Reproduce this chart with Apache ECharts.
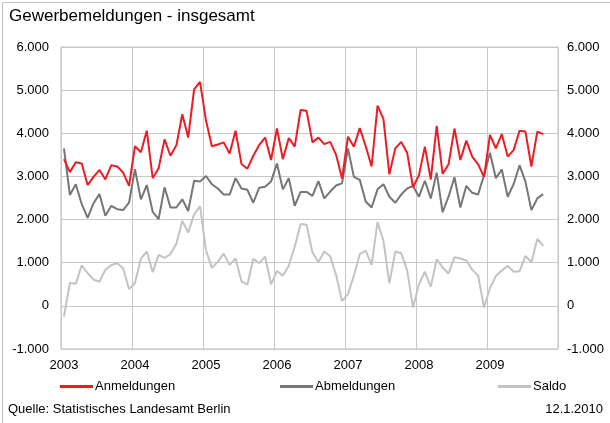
<!DOCTYPE html>
<html>
<head>
<meta charset="utf-8">
<script src="https://cdn.jsdelivr.net/npm/echarts@6/dist/echarts.min.js"></script>
<style>
  html, body { margin: 0; padding: 0; background: #fff; }
  #chart { width: 610px; height: 423px; }
</style>
</head>
<body>
<div id="chart"></div>
<script>
// Monatliche Gewerbemeldungen in Berlin, Januar 2003 bis Oktober 2009
const years = ['2003', '2004', '2005', '2006', '2007', '2008', '2009'];
const months = ['01', '02', '03', '04', '05', '06', '07', '08', '09', '10', '11', '12'];

const anmeldungen = [
  3400, 3100, 3330, 3300, 2800, 2990, 3150, 2930, 3260, 3230, 3090, 2780,
  3700, 3560, 4060, 2960, 3190, 3860, 3480, 3720, 4440, 3900, 5020, 5190,
  4300, 3700, 3740, 3790, 3530, 4060, 3290, 3180, 3480, 3730, 3900, 3380,
  4110, 3400, 3890, 3690, 4540, 4520, 3790, 3900, 3750, 3800, 3500, 2950,
  3920, 3690, 4120, 3700, 3230, 4640, 4330, 3050, 3650, 3800, 3550, 2750,
  3030, 3690, 2930, 4170, 3060, 3280, 4110, 3380, 3830, 3460, 3280, 2990,
  3960, 3650, 3980, 3460, 3610, 4060, 4040, 3230, 4040, 3980
];

const abmeldungen = [
  3650, 2570, 2820, 2360, 2040, 2380, 2590, 2090, 2320, 2240, 2220, 2390,
  3170, 2470, 2800, 2180, 2010, 2750, 2280, 2280, 2470, 2200, 2900, 2880,
  3010, 2820, 2720, 2580, 2580, 2960, 2720, 2690, 2390, 2740, 2760, 2880,
  3300, 2700, 2960, 2320, 2640, 2640, 2550, 2890, 2490, 2650, 2790, 2840,
  3650, 2990, 2920, 2420, 2280, 2700, 2820, 2530, 2390, 2580, 2720, 2780,
  2530, 2900, 2490, 3090, 2170, 2530, 2980, 2280, 2780, 2620, 2580, 3030,
  3550, 2960, 3160, 2530, 2820, 3260, 2880, 2220, 2490, 2590
];

const saldo = [
  -250, 530, 510, 940, 760, 610, 560, 840, 940, 990, 870, 390,
  530, 1090, 1260, 780, 1180, 1110, 1200, 1440, 1970, 1700, 2120, 2310,
  1290, 880, 1020, 1210, 950, 1100, 570, 490, 1090, 990, 1140, 500,
  810, 700, 930, 1370, 1900, 1880, 1240, 1010, 1260, 1150, 710, 110,
  270, 700, 1200, 1280, 950, 1940, 1510, 520, 1260, 1220, 830, -40,
  500, 790, 440, 1080, 890, 750, 1130, 1100, 1050, 840, 700, -40,
  410, 690, 820, 930, 790, 800, 1160, 1010, 1550, 1390
];

const yTicks = { min: -1000, max: 6000, step: 1000 };

// Kategorien: ein Eintrag je Monat, Jahreszahl nur im Januar beschriftet
const categories = [];
years.forEach(function (y) { months.forEach(function (m) { categories.push(y + '-' + m); }); });

const FONT = '"Liberation Sans", Arial, sans-serif';

function deNumber(v) {
  const s = String(Math.abs(v)).replace(/\B(?=(\d{3})+(?!\d))/g, '.');
  return (v < 0 ? '-' : '') + s;
}

const chart = echarts.init(document.getElementById('chart'), null, { renderer: 'canvas' });

const yBase = {
  type: 'value',
  min: yTicks.min,
  max: yTicks.max,
  interval: yTicks.step,
  axisLine: { show: false },
  axisTick: { show: false },
  axisLabel: {
    formatter: deNumber,
    color: '#000',
    fontFamily: FONT,
    fontSize: 13
  }
};

const legendBase = {
  icon: 'rect',
  itemWidth: 33,
  itemHeight: 3,
  top: 380,
  padding: 0,
  selectedMode: false,
  textStyle: { color: '#000', fontFamily: FONT, fontSize: 13, padding: [0, 0, 0, -3] }
};

chart.setOption({
  animation: false,
  backgroundColor: '#fff',
  textStyle: { fontFamily: FONT },
  title: {
    text: 'Gewerbemeldungen - insgesamt',
    left: 9,
    top: 8,
    padding: 0,
    textStyle: { color: '#000', fontFamily: FONT, fontSize: 17, fontWeight: 'normal' }
  },
  legend: [
    Object.assign({}, legendBase, { left: 60, data: ['Anmeldungen'] }),
    Object.assign({}, legendBase, { left: 280, data: ['Abmeldungen'] }),
    Object.assign({}, legendBase, { left: 498, data: ['Saldo'] })
  ],
  grid: {
    left: 61,
    top: 47,
    width: 497,
    height: 302,
    show: true,
    borderColor: '#c0c0c0',
    borderWidth: 1,
    backgroundColor: 'transparent'
  },
  xAxis: {
    type: 'category',
    data: categories,
    boundaryGap: true,
    axisLine: { show: false },
    axisTick: { show: false, interval: 11 },
    axisLabel: {
      interval: 11,
      margin: 10,
      color: '#000',
      fontFamily: FONT,
      fontSize: 13,
      formatter: function (v) { return v.slice(0, 4); }
    },
    splitLine: { show: true, interval: 11, lineStyle: { color: '#c8c8c8', width: 1 } }
  },
  yAxis: [
    Object.assign({}, yBase, {
      position: 'left',
      axisLabel: Object.assign({}, yBase.axisLabel, { margin: 12 }),
      splitLine: { show: true, lineStyle: { color: '#c8c8c8', width: 1 } }
    }),
    Object.assign({}, yBase, {
      position: 'right',
      axisLabel: Object.assign({}, yBase.axisLabel, { margin: 9 }),
      splitLine: { show: false }
    })
  ],
  series: [
    {
      name: 'Anmeldungen',
      type: 'line',
      data: anmeldungen,
      symbol: 'none',
      z: 4,
      color: '#ed1c24',
      lineStyle: { color: '#ed1c24', width: 2 }
    },
    {
      name: 'Abmeldungen',
      type: 'line',
      data: abmeldungen,
      symbol: 'none',
      z: 3,
      color: '#767676',
      lineStyle: { color: '#767676', width: 2 }
    },
    {
      name: 'Saldo',
      type: 'line',
      data: saldo,
      symbol: 'none',
      z: 2,
      color: '#c3c3c3',
      lineStyle: { color: '#c3c3c3', width: 2 }
    }
  ],
  graphic: [
    { type: 'line', shape: { x1: 2.5, y1: 2.5, x2: 610, y2: 2.5 }, style: { stroke: '#c0c0c0', lineWidth: 1 } },
    { type: 'line', shape: { x1: 2.5, y1: 2.5, x2: 2.5, y2: 423 }, style: { stroke: '#c0c0c0', lineWidth: 1 } },
    {
      type: 'text', left: 8, top: 403,
      style: { text: 'Quelle: Statistisches Landesamt Berlin', fill: '#000', font: '13px ' + FONT }
    },
    {
      type: 'text', right: 7, top: 403,
      style: { text: '12.1.2010', fill: '#000', font: '13px ' + FONT }
    }
  ]
});
</script>
</body>
</html>
